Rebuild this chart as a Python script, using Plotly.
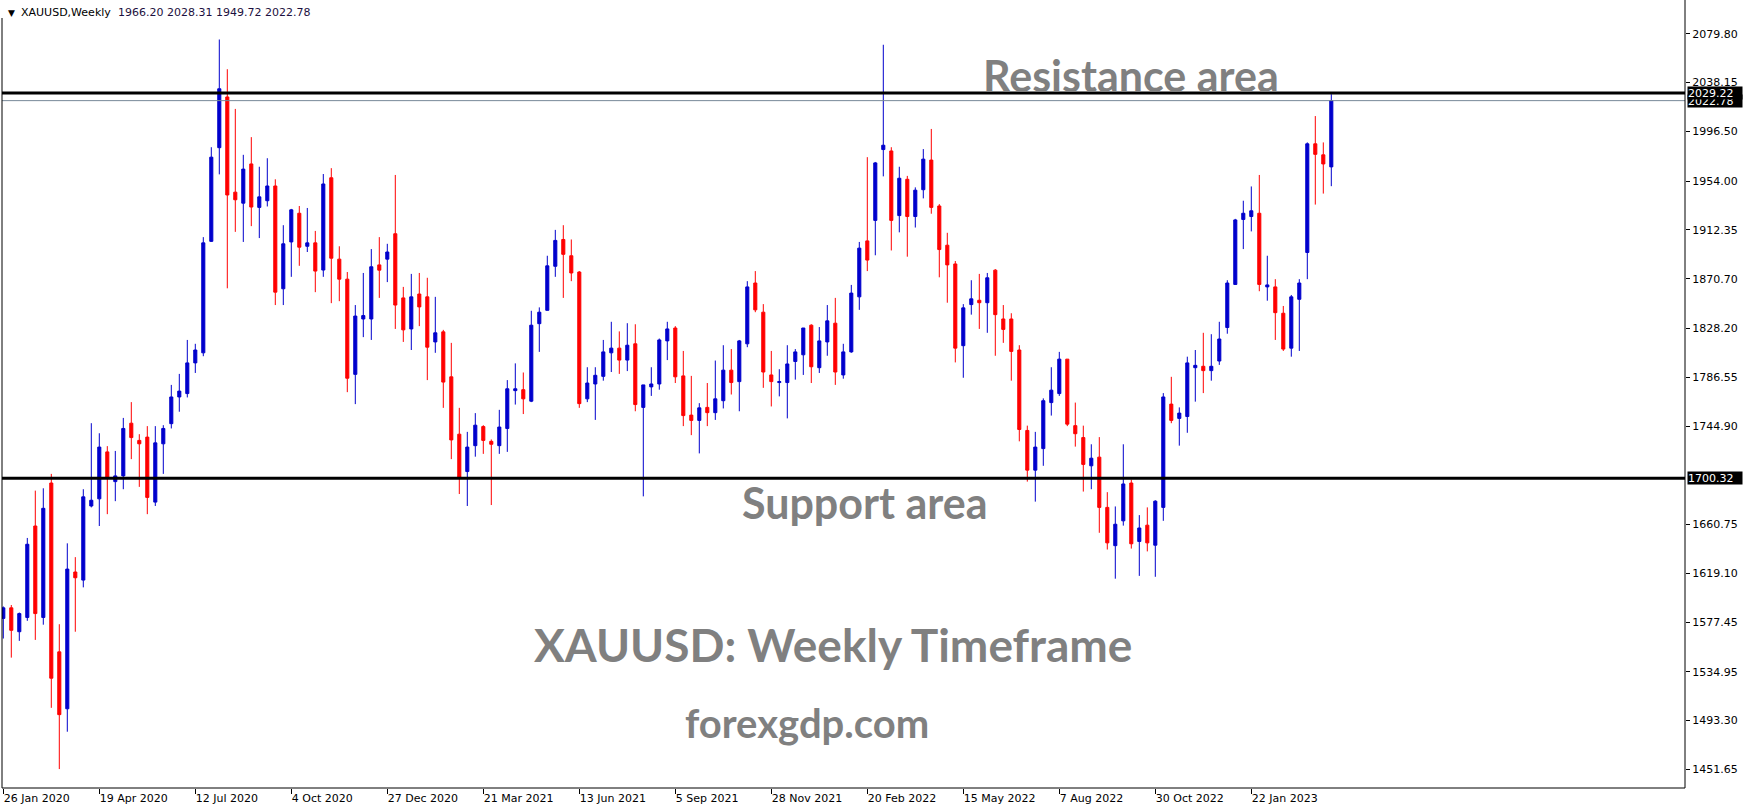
import plotly.graph_objects as go

# ---- data (weekly XAUUSD candles) ----
opens = [1580.6, 1589.6, 1569.2, 1581.4, 1659.5, 1581.4, 1696.2, 1552.0, 1503.4, 1620.2,
         1613.3, 1676.6, 1682.7, 1722.8, 1697.4, 1702.3, 1747.3, 1732.6, 1735.4, 1679.9,
         1729.7, 1746.9, 1769.7, 1772.6, 1798.8, 1807.4, 1902.6, 1982.6, 2025.9, 1944.6,
         1935.2, 1968.7, 1931.6, 1937.3, 1949.9, 1862.1, 1902.1, 1926.6, 1898.4, 1901.3,
         1878.1, 1956.9, 1887.4, 1870.3, 1789.0, 1836.3, 1836.3, 1882.5, 1887.4, 1909.1,
         1854.3, 1827.8, 1857.6, 1855.2, 1816.7, 1825.3, 1786.9, 1737.9, 1706.0, 1728.1,
         1744.4, 1731.8, 1728.1, 1742.8, 1775.1, 1775.9, 1766.1, 1832.3, 1843.7, 1881.3,
         1904.2, 1890.3, 1876.4, 1768.1, 1780.8, 1787.3, 1807.4, 1811.4, 1801.2, 1815.1,
         1760.8, 1778.3, 1780.8, 1817.6, 1828.6, 1787.7, 1754.2, 1749.7, 1760.8, 1756.3,
         1766.5, 1792.6, 1782.8, 1815.1, 1867.0, 1842.1, 1788.5, 1782.0, 1782.0, 1800.0,
         1805.7, 1831.0, 1794.7, 1816.7, 1832.7, 1788.5, 1808.2, 1855.2, 1903.0, 1920.5,
         1981.0, 1979.8, 1924.6, 1955.6, 1923.8, 1946.7, 1972.0, 1932.8, 1899.3, 1883.3,
         1813.5, 1848.6, 1852.3, 1850.2, 1878.0, 1836.3, 1836.3, 1809.8, 1741.1, 1707.2,
         1725.6, 1764.9, 1772.6, 1802.0, 1745.2, 1735.0, 1710.9, 1718.3, 1675.4, 1642.7,
         1663.9, 1696.2, 1646.3, 1660.2, 1643.1, 1675.4, 1763.6, 1751.4, 1753.0, 1794.7,
         1795.9, 1792.2, 1800.4, 1829.0, 1865.8, 1921.3, 1923.8, 1926.6, 1863.7, 1863.7,
         1841.2, 1811.4, 1853.1, 1893.1, 1985.9, 1976.5, 1966.20]
highs = [1590.8, 1592.0, 1585.6, 1649.3, 1689.7, 1691.7, 1704.0, 1575.6, 1644.7, 1632.9,
         1690.9, 1747.3, 1738.7, 1727.7, 1723.6, 1751.8, 1765.3, 1737.9, 1744.8, 1744.8,
         1745.6, 1780.0, 1789.4, 1818.4, 1815.1, 1906.2, 1983.0, 2075.0, 2049.6, 2015.7,
         1976.5, 1991.6, 1966.3, 1973.6, 1955.6, 1916.4, 1930.3, 1932.8, 1931.1, 1911.5,
         1960.1, 1965.1, 1898.4, 1876.4, 1848.2, 1875.6, 1896.0, 1906.2, 1900.5, 1959.3,
         1863.7, 1874.8, 1875.6, 1871.5, 1855.2, 1827.0, 1815.9, 1760.4, 1739.9, 1755.9,
         1745.6, 1733.4, 1758.7, 1784.1, 1798.4, 1790.6, 1843.3, 1846.2, 1890.3, 1912.4,
         1916.4, 1904.2, 1877.2, 1795.1, 1795.1, 1818.4, 1833.9, 1825.7, 1832.7, 1831.8,
         1780.0, 1795.1, 1819.6, 1833.9, 1830.2, 1809.0, 1787.7, 1764.4, 1781.6, 1800.8,
         1813.9, 1810.6, 1818.4, 1868.6, 1877.2, 1849.0, 1809.0, 1793.4, 1813.9, 1810.6,
         1828.6, 1831.8, 1829.4, 1848.2, 1854.3, 1815.1, 1865.4, 1902.1, 1974.5, 1970.4,
         2070.5, 1983.0, 1966.3, 1958.5, 1948.7, 1981.4, 1998.6, 1934.4, 1909.9, 1885.8,
         1849.0, 1869.4, 1874.8, 1875.6, 1878.9, 1848.2, 1841.2, 1813.9, 1745.2, 1739.9,
         1768.5, 1795.1, 1808.2, 1802.0, 1764.9, 1745.2, 1729.3, 1735.4, 1688.4, 1676.2,
         1729.3, 1699.1, 1668.8, 1675.4, 1681.5, 1773.0, 1786.9, 1760.8, 1804.1, 1809.8,
         1824.5, 1823.3, 1833.9, 1869.4, 1921.8, 1937.3, 1949.5, 1959.3, 1890.3, 1870.3,
         1847.4, 1856.8, 1870.3, 1987.1, 2009.6, 1987.1, 2028.31]
lows = [1563.4, 1547.1, 1561.4, 1578.5, 1562.2, 1575.2, 1504.2, 1451.9, 1483.8, 1569.2,
        1607.1, 1675.4, 1659.5, 1669.6, 1680.7, 1690.9, 1716.6, 1692.9, 1669.6, 1676.6,
        1704.0, 1742.8, 1757.1, 1769.3, 1790.2, 1804.5, 1902.1, 1959.8, 1862.5, 1910.7,
        1902.1, 1915.6, 1905.4, 1932.4, 1848.2, 1848.2, 1872.3, 1881.7, 1893.5, 1859.2,
        1872.3, 1849.8, 1851.5, 1773.8, 1763.6, 1820.8, 1818.4, 1854.3, 1867.8, 1827.8,
        1816.7, 1809.8, 1830.2, 1784.1, 1807.4, 1760.4, 1716.6, 1686.8, 1676.6, 1718.7,
        1721.1, 1677.4, 1721.1, 1722.8, 1763.2, 1755.1, 1765.3, 1808.2, 1843.7, 1872.3,
        1854.3, 1868.6, 1760.4, 1765.3, 1750.1, 1783.6, 1791.0, 1789.4, 1791.8, 1757.5,
        1684.8, 1770.6, 1775.9, 1801.2, 1781.6, 1744.8, 1737.1, 1721.5, 1744.8, 1750.1,
        1759.9, 1771.8, 1757.5, 1812.2, 1842.1, 1777.5, 1761.6, 1770.2, 1751.4, 1784.5,
        1788.5, 1781.6, 1790.2, 1804.9, 1780.0, 1785.3, 1807.4, 1844.1, 1877.2, 1890.7,
        1958.1, 1894.8, 1910.3, 1889.5, 1914.4, 1939.3, 1926.2, 1871.9, 1850.2, 1799.2,
        1786.1, 1840.0, 1827.8, 1824.5, 1804.9, 1815.9, 1783.6, 1731.8, 1697.4, 1680.3,
        1710.9, 1753.8, 1770.6, 1744.8, 1727.3, 1688.9, 1690.9, 1653.7, 1639.4, 1614.5,
        1659.8, 1640.2, 1616.9, 1637.8, 1616.1, 1663.9, 1747.3, 1728.1, 1739.1, 1765.7,
        1773.0, 1783.6, 1797.1, 1823.7, 1865.8, 1896.0, 1911.1, 1860.0, 1851.9, 1818.4,
        1809.0, 1804.1, 1809.0, 1870.3, 1934.0, 1943.4, 1949.72]
closes = [1589.6, 1570.4, 1584.7, 1643.9, 1584.7, 1674.6, 1529.5, 1498.4, 1622.7, 1615.3,
          1684.4, 1681.5, 1726.9, 1700.3, 1702.3, 1742.8, 1735.0, 1729.7, 1683.9, 1730.5,
          1742.8, 1769.7, 1774.7, 1798.8, 1809.8, 1901.3, 1974.5, 2032.9, 1942.2, 1938.1,
          1964.3, 1931.9, 1940.6, 1949.9, 1859.2, 1900.5, 1929.5, 1897.6, 1901.3, 1877.2,
          1951.6, 1888.2, 1870.3, 1785.7, 1838.8, 1839.2, 1880.9, 1878.0, 1893.5, 1848.2,
          1827.0, 1855.2, 1846.6, 1812.2, 1824.5, 1782.4, 1733.0, 1701.1, 1726.9, 1745.6,
          1732.6, 1729.3, 1744.0, 1776.7, 1776.7, 1768.1, 1831.0, 1842.1, 1881.7, 1903.4,
          1891.5, 1875.6, 1764.0, 1781.6, 1788.2, 1808.2, 1811.4, 1801.2, 1813.9, 1763.2,
          1780.0, 1780.8, 1818.4, 1827.8, 1786.9, 1753.8, 1749.7, 1760.4, 1756.3, 1768.1,
          1792.6, 1782.0, 1817.6, 1863.7, 1844.1, 1791.0, 1782.8, 1782.8, 1797.9, 1808.2,
          1828.6, 1795.5, 1817.6, 1834.7, 1791.0, 1808.2, 1858.4, 1896.8, 1886.6, 1969.6,
          1984.7, 1920.5, 1956.5, 1923.8, 1946.3, 1972.8, 1931.6, 1895.6, 1882.5, 1811.4,
          1845.8, 1853.5, 1850.2, 1871.5, 1840.0, 1827.4, 1808.6, 1741.9, 1707.2, 1726.9,
          1766.5, 1775.5, 1802.0, 1746.5, 1738.3, 1712.1, 1717.4, 1675.4, 1645.1, 1661.0,
          1695.4, 1644.3, 1657.8, 1645.1, 1680.7, 1769.7, 1749.7, 1755.9, 1798.8, 1796.7,
          1792.2, 1795.9, 1819.2, 1867.0, 1920.9, 1926.6, 1928.7, 1865.8, 1865.4, 1841.7,
          1810.6, 1855.2, 1867.0, 1985.9, 1976.9, 1968.7, 2022.78]

date_labels = ["26 Jan 2020", "19 Apr 2020", "12 Jul 2020", "4 Oct 2020", "27 Dec 2020",
               "21 Mar 2021", "13 Jun 2021", "5 Sep 2021", "28 Nov 2021", "20 Feb 2022",
               "15 May 2022", "7 Aug 2022", "30 Oct 2022", "22 Jan 2023"]
price_ticks = [2079.80, 2038.15, 1996.50, 1954.00, 1912.35, 1870.70, 1828.20, 1786.55,
               1744.90, 1660.75, 1619.10, 1577.45, 1534.95, 1493.30, 1451.65]
resistance = 2029.22
support = 1700.32
bid = 2022.78
title_values = "1966.20 2028.31 1949.72 2022.78"

# ---- styling ----
BLUE = "#0000CC"
RED = "#FF0000"
GREY_TXT = "#808080"
W, H = 1749, 812
L, R, T, B = 2, 1685, 0, 788  # plot area in pixels


def px(x):
    return (x - L) / (R - L)


def py(y):
    return (B - y) / (B - T)


n = len(opens)
idx = list(range(n))
week_ticks = list(range(0, 12 * len(date_labels), 12))

fig = go.Figure(go.Candlestick(
    x=idx, open=opens, high=highs, low=lows, close=closes,
    increasing=dict(line=dict(color=BLUE, width=1), fillcolor=BLUE),
    decreasing=dict(line=dict(color=RED, width=1), fillcolor=RED),
    whiskerwidth=0, showlegend=False, hoverinfo="skip",
))

tick_font = dict(family="DejaVu Sans", size=11, color="black")

fig.update_layout(
    width=W, height=H,
    margin=dict(l=L, r=W - R, t=T, b=H - B, pad=0),
    paper_bgcolor="white", plot_bgcolor="white",
    boxgap=0.45,
    showlegend=False,
    xaxis=dict(
        range=[(L - 3.3) / 8, (R - 3.3) / 8],
        showgrid=False, zeroline=False, showline=False,
        ticks="outside", ticklen=5, tickcolor="black", tickwidth=1,
        tickvals=week_ticks, ticktext=date_labels,
        ticklabelposition="outside right",
        tickfont=tick_font,
        rangeslider=dict(visible=False), fixedrange=True,
    ),
    yaxis=dict(
        side="right",
        range=[support - (B - 478.2) / 1.1709, support + (478.2 - T) / 1.1709],
        showgrid=False, zeroline=False, showline=False,
        ticks="outside", ticklen=4, tickcolor="black", tickwidth=1,
        tickvals=price_ticks, ticktext=[f"{v:.2f}" for v in price_ticks],
        tickfont=tick_font, fixedrange=True,
    ),
)

shapes = [
    dict(type="line", xref="paper", yref="y", x0=0, x1=1, y0=bid, y1=bid,
         line=dict(color="#778899", width=1)),
    dict(type="line", xref="paper", yref="y", x0=0, x1=1, y0=resistance, y1=resistance,
         line=dict(color="black", width=3)),
    dict(type="line", xref="paper", yref="y", x0=0, x1=1, y0=support, y1=support,
         line=dict(color="black", width=3)),
    # chart frame
    dict(type="line", xref="paper", yref="paper", x0=0, x1=0, y0=0, y1=py(18),
         line=dict(color="black", width=1)),
    dict(type="line", xref="paper", yref="paper", x0=1, x1=1, y0=0, y1=1,
         line=dict(color="black", width=1)),
    dict(type="line", xref="paper", yref="paper", x0=0, x1=1, y0=0, y1=0,
         line=dict(color="black", width=1)),
]
fig.update_layout(shapes=shapes)

ann = []
# header
ann.append(dict(text="▼", x=px(5.5), y=py(13), xref="paper", yref="paper",
                xanchor="left", yanchor="middle", showarrow=False,
                font=dict(family="DejaVu Sans", size=9, color="black")))
ann.append(dict(text="XAUUSD,Weekly", x=px(18.5), y=py(13), xref="paper", yref="paper",
                xanchor="left", yanchor="middle", showarrow=False, font=tick_font))
ann.append(dict(text=title_values, x=px(116), y=py(13), xref="paper", yref="paper",
                xanchor="left", yanchor="middle", showarrow=False,
                font=dict(family="DejaVu Sans", size=11, color="#1c1040")))
# price boxes on the right axis
for val in [bid, resistance, support]:
    ann.append(dict(text=f"{val:.2f}", x=px(1687), y=val, xref="paper", yref="y",
                    xanchor="left", yanchor="middle", showarrow=False,
                    bgcolor="black", borderpad=0, width=54, height=12, align="left",
                    font=dict(family="DejaVu Sans", size=11, color="white")))
# big grey texts
big = [
    ("Resistance area", 1131, 75, 43),
    ("Support area", 865, 502, 43),
    ("XAUUSD: Weekly Timeframe", 833, 644, 46),
    ("forexgdp.com", 807, 723, 40),
]
for txt, cx, cy, size in big:
    ann.append(dict(text=txt, x=px(cx), y=py(cy), xref="paper", yref="paper",
                    xanchor="center", yanchor="middle", showarrow=False,
                    font=dict(family="Lato", size=size, color=GREY_TXT, weight="bold")))
fig.update_layout(annotations=ann)

fig.write_html("out.html", config={"displayModeBar": False},
               post_script="document.body.style.margin='0';document.body.style.overflow='hidden';")
